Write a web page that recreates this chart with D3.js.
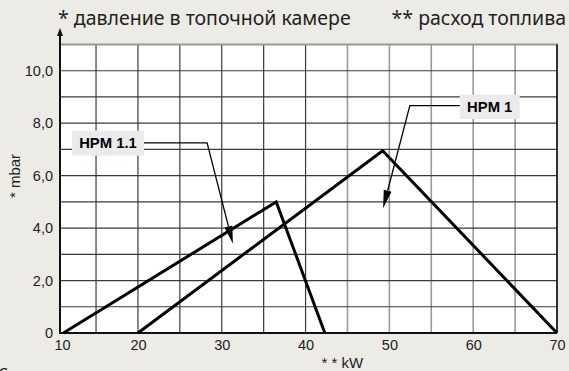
<!DOCTYPE html>
<html><head><meta charset="utf-8">
<script src="https://cdn.jsdelivr.net/npm/d3@7"></script>
<style>
html,body{margin:0;padding:0;background:#ecebe6;}
svg{display:block;}
</style></head>
<body>
<svg id="c" width="569" height="371"></svg>
<script>
// ---- data ----
const xTicks = [10, 20, 30, 40, 50, 60, 70];
const xTickLabels = ["10", "20", "30", "40", "50", "60", "70"];
const yTicks = [0, 2, 4, 6, 8, 10];
const yTickLabels = ["0", "2,0", "4,0", "6,0", "8,0", "10,0"];
const seriesNames = ["HPM 1.1", "HPM 1"];
const hpm11_kW = [11.1, 36.5, 42.3];
const hpm11_mbar = [0, 5.0, 0];
const hpm1_kW = [20, 49.2, 70];
const hpm1_mbar = [0, 6.95, 0];
const titleLeft = "* давление в топочной камере";
const titleRight = "** расход топлива";
const yTitle = "* mbar";
const xTitle = "* * kW";

// ---- layout ----
const svg = d3.select("#c");
const L = 60, R = 557, T = 44.5, B = 333;
const x = d3.scaleLinear().domain([10.7, 70]).range([L, R]);
const y = d3.scaleLinear().domain([0, 11]).range([B, T]);

svg.append("rect").attr("x", L).attr("y", T).attr("width", R - L).attr("height", B - T).attr("fill", "#fff");

// grid
const gx = d3.range(15, 70, 5);
svg.append("g").selectAll("line").data(gx).join("line")
  .attr("x1", d => x(d)).attr("x2", d => x(d)).attr("y1", T).attr("y2", B)
  .attr("stroke", d => d >= 45 ? "#9a9a9a" : "#3a3a3a").attr("stroke-width", d => d >= 45 ? 1.6 : 1.2);
const gy = d3.range(1, 11, 1);
svg.append("g").selectAll("line").data(gy).join("line")
  .attr("x1", L).attr("x2", R).attr("y1", d => y(d)).attr("y2", d => y(d))
  .attr("stroke", "#3a3a3a").attr("stroke-width", 1.2);

// borders
svg.append("line").attr("x1", L).attr("x2", R + 1).attr("y1", T).attr("y2", T).attr("stroke", "#999").attr("stroke-width", 2.2);
svg.append("line").attr("x1", R).attr("x2", R).attr("y1", T).attr("y2", B).attr("stroke", "#000").attr("stroke-width", 1.6);

// axes
const xAxis = d3.axisBottom(x).tickValues(xTicks).tickSize(0).tickFormat((d, i) => xTickLabels[i]);
const gxA = svg.append("g").attr("transform", `translate(0,${B})`).call(xAxis);
gxA.select(".domain").remove();
gxA.selectAll("text").attr("font-family", "Liberation Sans, Arial, sans-serif").attr("font-size", 14.5).attr("fill", "#222").attr("dy", "0.95em")
  .attr("x", d => Math.max(0, L + 2 - x(d)));

const yAxis = d3.axisLeft(y).tickValues(yTicks).tickSize(0).tickPadding(7).tickFormat((d, i) => yTickLabels[i]);
const gyA = svg.append("g").attr("transform", `translate(${L},0)`).call(yAxis);
gyA.select(".domain").remove();
gyA.selectAll("text").attr("font-family", "Liberation Sans, Arial, sans-serif").attr("font-size", 14.5).attr("fill", "#222");

svg.append("line").attr("x1", L - 1).attr("x2", R).attr("y1", B).attr("y2", B).attr("stroke", "#111").attr("stroke-width", 2);
svg.append("line").attr("x1", L).attr("x2", L).attr("y1", B + 1).attr("y2", 34).attr("stroke", "#111").attr("stroke-width", 2);
svg.append("path").attr("d", `M${L},28 L${L - 3},36 L${L + 3},36 Z`).attr("fill", "#111");

// series
const line = d3.line().x(d => x(d[0])).y(d => y(d[1]));
const series = [
  d3.zip(hpm11_kW, hpm11_mbar),
  d3.zip(hpm1_kW, hpm1_mbar)
];
svg.append("g").selectAll("path").data(series).join("path")
  .attr("d", line).attr("fill", "none").attr("stroke", "#000").attr("stroke-width", 3).attr("stroke-linejoin", "miter");

// annotations (label box, elbow, arrow tip) in data coords
const notes = [
  { name: seriesNames[0], box: [12.13, 7.72, 20.72, 6.76], elbow: [[20.72, 7.25], [28.25, 7.25]], tip: [31.33, 3.40] },
  { name: seriesNames[1], box: [58.4, 9.09, 65.55, 8.16], elbow: [[58.4, 8.67], [52.44, 8.67]], tip: [49.25, 4.76] }
];
const ag = svg.append("g");
notes.forEach(n => {
  const x0 = x(n.box[0]), x1 = x(n.box[2]), y0 = y(n.box[1]), y1 = y(n.box[3]);
  ag.append("rect").attr("x", x0).attr("y", y0).attr("width", x1 - x0).attr("height", y1 - y0).attr("fill", "#ebebeb");
  ag.append("text").attr("x", (x0 + x1) / 2).attr("y", (y0 + y1) / 2).attr("dy", "0.36em").attr("text-anchor", "middle")
    .attr("font-family", "Liberation Sans, Arial, sans-serif").attr("font-weight", "bold").attr("font-size", 14.8).attr("fill", "#000").text(n.name);
  const pts = [...n.elbow, n.tip].map(p => [x(p[0]), y(p[1])]);
  const a = pts[1], b = pts[2];
  const dx = b[0] - a[0], dy = b[1] - a[1], len = Math.hypot(dx, dy);
  const ux = dx / len, uy = dy / len;
  const hl = 18, hw = 4;
  const base = [b[0] - ux * hl, b[1] - uy * hl];
  ag.append("path").attr("d", `M${pts[0][0]},${pts[0][1]}L${a[0]},${a[1]}L${base[0]},${base[1]}`).attr("fill", "none").attr("stroke", "#000").attr("stroke-width", 1.3);
  ag.append("path").attr("d", `M${b[0]},${b[1]}L${base[0] - uy * hw},${base[1] + ux * hw}L${base[0] + uy * hw},${base[1] - ux * hw}Z`).attr("fill", "#000");
});

// titles
const tf = "Noto Sans, Open Sans, sans-serif";
svg.append("text").attr("x", 58).attr("y", 25).attr("font-family", tf).attr("font-size", 19.5).attr("fill", "#222").text(titleLeft);
svg.append("text").attr("x", 566).attr("y", 25).attr("text-anchor", "end").attr("font-family", tf).attr("font-size", 19.5).attr("fill", "#222").text(titleRight);
svg.append("text").attr("transform", `translate(20,176) rotate(-90)`).attr("text-anchor", "middle")
  .attr("font-family", "Liberation Sans, Arial, sans-serif").attr("font-size", 15).attr("fill", "#222").text(yTitle);
svg.append("text").attr("x", x(44.4)).attr("y", 368).attr("text-anchor", "middle")
  .attr("font-family", "Liberation Sans, Arial, sans-serif").attr("font-size", 15).attr("fill", "#222").text(xTitle);
svg.append("text").attr("x", -1).attr("y", 380).attr("font-family", tf).attr("font-size", 17).attr("fill", "#222").text("S");
</script>
</body></html>
